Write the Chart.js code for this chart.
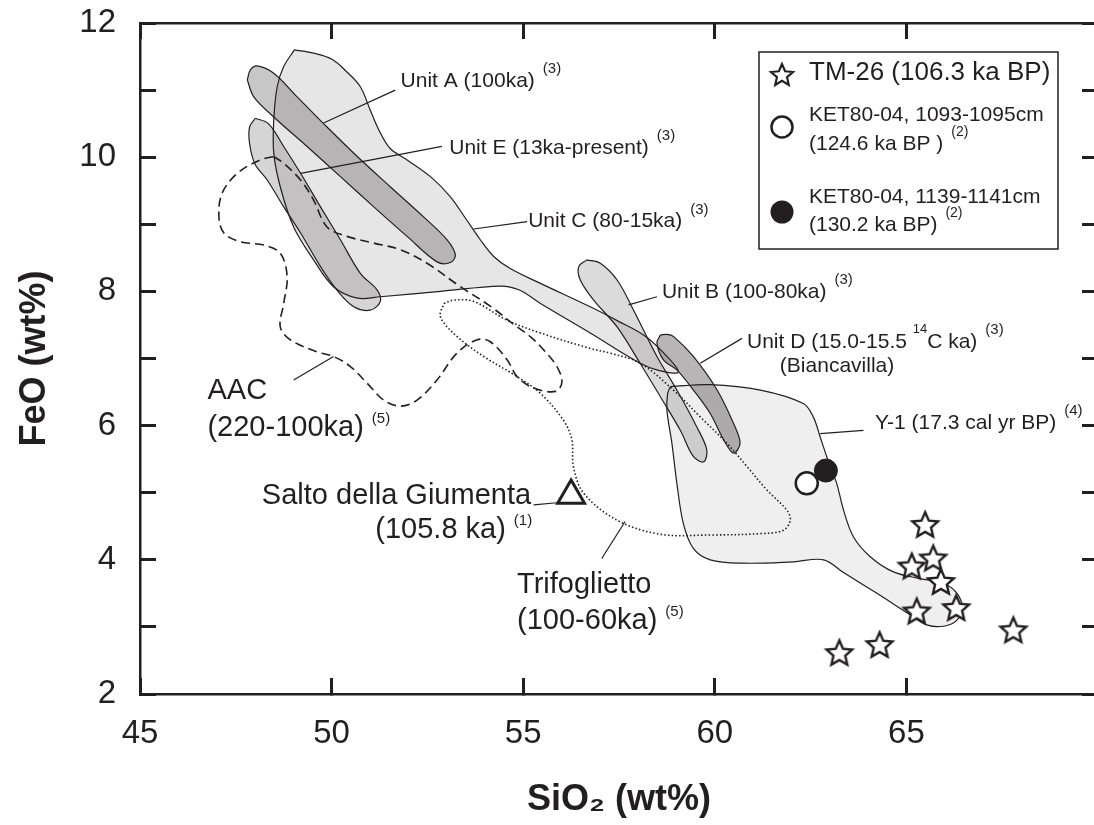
<!DOCTYPE html>
<html>
<head>
<meta charset="utf-8">
<script src="https://cdn.jsdelivr.net/npm/chart.js@4.4.0/dist/chart.umd.min.js"></script>
<style>
  html, body { margin: 0; padding: 0; overflow: hidden; background: #fff; }
  #wrap { width: 1110px; height: 825px; }
</style>
</head>
<body>
<div id="wrap"><canvas id="myChart" width="1110" height="825"></canvas></div>
<script>
const INK = "#231f20";
const FONT = '"Liberation Sans", Arial, Helvetica, sans-serif';

// tick labels
const xTicks = [45, 50, 55, 60, 65];
const yTicks = [2, 4, 6, 8, 10, 12];

// glass analyses (SiO2, FeO wt%)
const tm26 = [[65.49, 4.52], [65.70, 4.02], [65.14, 3.90], [65.90, 3.67], [65.27, 3.23], [66.30, 3.28], [67.79, 2.95], [64.30, 2.73], [63.25, 2.61]];
const ket1093 = [[62.40, 5.14]];
const ket1139 = [[62.90, 5.33]];
const saltoGiumenta = [[56.25, 4.96]];

// compositional fields (outlines)
const unitC = [[49.03, 11.60], [49.53, 11.55], [50.01, 11.46], [50.40, 11.27], [50.75, 11.05], [51.01, 10.70], [51.23, 10.41], [51.53, 10.13], [51.97, 9.96], [52.58, 9.71], [53.10, 9.41], [53.53, 9.06], [53.88, 8.77], [54.23, 8.52], [54.66, 8.34], [55.45, 8.12], [56.75, 7.77], [57.50, 7.55], [58.14, 7.35], [58.60, 7.12], [59.05, 6.80], [58.55, 6.82], [58.05, 6.93], [56.75, 7.38], [55.45, 7.82], [54.90, 8.02], [54.40, 8.08], [52.84, 8.00], [51.27, 7.92], [50.67, 7.90], [50.05, 8.07], [49.53, 8.47], [49.01, 8.96], [48.66, 9.56], [48.49, 10.06], [48.49, 10.55], [48.58, 11.05], [48.75, 11.35]];
const unitA = [[47.80, 11.15], [47.88, 11.30], [48.06, 11.36], [48.49, 11.25], [49.10, 10.90], [49.88, 10.45], [50.67, 10.01], [51.53, 9.56], [52.40, 9.11], [53.01, 8.77], [53.23, 8.54], [53.10, 8.43], [52.75, 8.44], [51.97, 8.82], [51.10, 9.26], [50.23, 9.71], [49.36, 10.16], [48.49, 10.60], [47.97, 10.90]];
const unitE = [[48.01, 10.58], [47.86, 10.45], [47.86, 10.20], [48.00, 9.90], [48.32, 9.66], [48.75, 9.26], [49.19, 8.87], [49.71, 8.37], [50.14, 8.02], [50.58, 7.77], [51.01, 7.72], [51.27, 7.85], [51.19, 8.02], [50.75, 8.27], [50.23, 8.77], [49.71, 9.26], [49.19, 9.76], [48.75, 10.16], [48.35, 10.50]];
const unitB = [[56.66, 8.47], [56.45, 8.37], [56.49, 8.17], [56.84, 7.87], [57.45, 7.47], [58.05, 6.93], [58.58, 6.43], [59.10, 5.93], [59.44, 5.54], [59.71, 5.46], [59.79, 5.64], [59.53, 5.98], [59.01, 6.53], [58.49, 7.03], [57.88, 7.72], [57.45, 8.17], [57.01, 8.42]];
const unitD = [[58.58, 7.35], [58.49, 7.23], [58.66, 6.98], [59.01, 6.83], [59.44, 6.53], [59.88, 6.18], [60.23, 5.79], [60.49, 5.59], [60.66, 5.74], [60.49, 6.03], [60.06, 6.53], [59.44, 7.03], [58.92, 7.33], [58.75, 7.36]];
const y1 = [[58.84, 6.58], [59.88, 6.61], [61.19, 6.53], [62.31, 6.33], [62.57, 6.13], [62.75, 5.83], [62.92, 5.54], [63.18, 5.14], [63.36, 4.74], [63.62, 4.34], [64.05, 4.05], [64.66, 3.82], [65.36, 3.72], [65.97, 3.65], [66.32, 3.50], [66.45, 3.30], [66.32, 3.10], [65.97, 3.01], [65.53, 3.03], [65.10, 3.18], [64.23, 3.50], [63.36, 3.81], [62.84, 4.00], [62.05, 3.97], [60.75, 3.95], [59.88, 4.00], [59.44, 4.17], [59.18, 4.54], [59.01, 5.14], [58.88, 5.74], [58.75, 6.23], [58.77, 6.48]];
const aac = [[48.49, 10.01], [48.75, 9.91], [49.19, 9.66], [49.53, 9.36], [49.88, 8.96], [50.40, 8.82], [51.10, 8.72], [51.80, 8.62], [52.49, 8.42], [53.36, 8.07], [54.14, 7.78], [54.84, 7.47], [55.20, 7.32], [55.53, 7.13], [55.88, 6.88], [56.01, 6.65], [55.85, 6.51], [55.27, 6.56], [54.84, 6.73], [54.58, 6.98], [54.14, 7.25], [53.80, 7.28], [53.27, 7.08], [52.75, 6.68], [52.23, 6.38], [51.80, 6.29], [51.36, 6.38], [50.93, 6.63], [50.49, 6.88], [50.05, 7.03], [49.62, 7.10], [48.92, 7.28], [48.66, 7.47], [48.75, 7.82], [48.84, 8.22], [48.66, 8.57], [48.23, 8.69], [47.62, 8.74], [47.19, 8.87], [47.06, 9.11], [47.14, 9.46], [47.54, 9.76], [48.14, 9.96]];
const trifoglietto = [[52.93, 7.82], [53.18, 7.87], [53.71, 7.85], [54.58, 7.57], [55.45, 7.38], [56.75, 7.15], [57.27, 7.08], [58.05, 6.93], [58.92, 6.53], [59.62, 6.13], [60.31, 5.74], [60.84, 5.39], [61.36, 5.04], [61.88, 4.74], [61.97, 4.59], [61.79, 4.44], [61.19, 4.39], [59.88, 4.37], [58.58, 4.38], [57.45, 4.59], [56.58, 4.99], [56.31, 5.39], [56.27, 5.79], [56.05, 6.08], [55.45, 6.48], [54.84, 6.73], [53.97, 7.03], [53.27, 7.33], [52.84, 7.62]];

// label leader lines: x1, y1, x2, y2
const leaders = [
  [49.79, 10.51, 51.66, 11.00],
  [49.19, 9.76, 52.88, 10.16],
  [53.71, 8.93, 55.10, 9.04],
  [57.75, 7.80, 58.49, 7.92],
  [59.62, 6.93, 60.71, 7.30],
  [62.75, 5.88, 63.88, 5.93],
  [50.05, 7.03, 49.01, 6.68],
  [55.27, 4.82, 55.88, 4.85],
  [57.66, 4.57, 57.05, 4.02],
];

// text notes, anchored in data units (left edge, middle)
const notes = [
  { x: 51.80, y: 11.14, size: 21, parts: ["Unit A (100ka)", { sup: "(3)" }] },
  { x: 53.07, y: 10.14, size: 21, parts: ["Unit E (13ka-present)", { sup: "(3)" }] },
  { x: 55.13, y: 9.04, size: 21, parts: ["Unit C (80-15ka)", { sup: "(3)" }] },
  { x: 58.62, y: 7.99, size: 21, parts: ["Unit B (100-80ka)", { sup: "(3)" }] },
  { x: 60.84, y: 7.25, size: 21, parts: ["Unit D (15.0-15.5 ", { sup: "14", gap: 0, size: 13 }, "C ka)", { sup: "(3)" }] },
  { x: 63.19, y: 6.89, size: 21, align: "center", parts: ["(Biancavilla)"] },
  { x: 64.18, y: 6.04, size: 21, parts: ["Y-1 (17.3 cal yr BP)", { sup: "(4)" }] },
  { x: 46.76, y: 6.52, size: 29, parts: ["AAC"] },
  { x: 46.76, y: 5.96, size: 29, parts: ["(220-100ka)", { sup: "(5)" }] },
  { x: 48.18, y: 4.95, size: 29, parts: ["Salto della Giumenta"] },
  { x: 51.14, y: 4.44, size: 29, parts: ["(105.8 ka)", { sup: "(1)" }] },
  { x: 54.84, y: 3.62, size: 29, parts: ["Trifoglietto"] },
  { x: 54.84, y: 3.09, size: 29, parts: ["(100-60ka)", { sup: "(5)" }] },
];

const pts = (a) => a.map(([x, y]) => ({ x, y }));
const loop = (a) => pts([...a, a[0]]);

function makeStar(r, lw) {
  const size = Math.ceil(r * 2 + lw * 2 + 2);
  const c = document.createElement("canvas");
  c.width = size;
  c.height = size;
  const g = c.getContext("2d");
  g.translate(size / 2, size / 2 + r * 0.05);
  g.beginPath();
  for (let i = 0; i < 10; i++) {
    const rad = i % 2 === 0 ? r : r * 0.46;
    const a = -Math.PI / 2 + (i * Math.PI) / 5;
    g.lineTo(Math.cos(a) * rad, Math.sin(a) * rad);
  }
  g.closePath();
  g.fillStyle = "#fff";
  g.fill();
  g.lineWidth = lw;
  g.lineJoin = "miter";
  g.strokeStyle = INK;
  g.stroke();
  return c;
}
const starImg = makeStar(13.5, 2.4);
const starSmall = makeStar(11.5, 2.2);

function field(label, arr, fillColor, order, extra) {
  return Object.assign(
    {
      label,
      data: loop(arr),
      showLine: true,
      fill: "shape",
      backgroundColor: fillColor,
      borderColor: INK,
      borderWidth: 1.2,
      pointRadius: 0,
      tension: 0.35,
      order,
    },
    extra || {}
  );
}

const datasets = [
  {
    label: "TM-26 (106.3 ka BP)",
    data: pts(tm26),
    pointStyle: starImg,
    pointRadius: 14,
    showLine: false,
    order: 0,
  },
  {
    label: "KET80-04, 1093-1095cm",
    data: pts(ket1093),
    pointStyle: "circle",
    pointRadius: 11,
    borderWidth: 2.5,
    borderColor: INK,
    backgroundColor: "#fff",
    showLine: false,
    order: 1,
  },
  {
    label: "KET80-04, 1139-1141cm",
    data: pts(ket1139),
    pointStyle: "circle",
    pointRadius: 11.5,
    borderWidth: 1,
    borderColor: INK,
    backgroundColor: INK,
    showLine: false,
    order: 0,
  },
  {
    label: "Salto della Giumenta",
    data: pts(saltoGiumenta),
    pointStyle: "triangle",
    pointRadius: 15.5,
    borderWidth: 3,
    borderColor: INK,
    backgroundColor: "rgba(255,255,255,0)",
    showLine: false,
    order: 1,
  },
  field("Unit D", unitD, "rgba(35,31,32,0.33)", 3),
  field("Unit B", unitB, "rgba(35,31,32,0.16)", 4),
  field("Unit A", unitA, "rgba(35,31,32,0.25)", 5),
  field("Unit E", unitE, "rgba(35,31,32,0.19)", 6),
  field("Trifoglietto", trifoglietto, "transparent", 7, { fill: false, borderDash: [1.5, 2.2], borderWidth: 1.6 }),
  field("AAC", aac, "transparent", 8, { fill: false, borderDash: [9, 5], borderWidth: 1.6 }),
  field("Y-1", y1, "rgba(35,31,32,0.07)", 9),
  field("Unit C", unitC, "rgba(35,31,32,0.11)", 10),
];

leaders.forEach(([x1, yA, x2, yB]) => {
  datasets.push({
    label: "",
    data: pts([[x1, yA], [x2, yB]]),
    showLine: true,
    fill: false,
    borderColor: INK,
    borderWidth: 1.2,
    pointRadius: 0,
    tension: 0,
    order: 2,
  });
});

// draws a line made of normal + superscript pieces
function drawParts(ctx, parts, x, y, size, align) {
  const mainFont = size + "px " + FONT;
  const raise = size > 24 ? 9 : 12;
  let total = 0;
  const widths = parts.map((p) => {
    if (typeof p === "string") {
      ctx.font = mainFont;
      return ctx.measureText(p).width;
    }
    ctx.font = (p.size || 15) + "px " + FONT;
    return ctx.measureText(p.sup).width + (p.gap === undefined ? 8 : p.gap);
  });
  widths.forEach((w) => (total += w));
  let cx = align === "center" ? x - total / 2 : x;
  ctx.textAlign = "left";
  ctx.textBaseline = "middle";
  ctx.fillStyle = INK;
  parts.forEach((p, i) => {
    if (typeof p === "string") {
      ctx.font = mainFont;
      ctx.fillText(p, cx, y);
    } else {
      const gap = p.gap === undefined ? 8 : p.gap;
      ctx.font = (p.size || 15) + "px " + FONT;
      ctx.fillText(p.sup, cx + gap, y - raise);
    }
    cx += widths[i];
  });
}

const notesPlugin = {
  id: "notes",
  afterDatasetsDraw(chart) {
    const { ctx, scales } = chart;
    ctx.save();
    notes.forEach((n) => {
      const px = scales.x.getPixelForValue(n.x);
      const py = scales.y.getPixelForValue(n.y);
      drawParts(ctx, n.parts, px, py, n.size, n.align);
    });
    ctx.restore();
  },
};

// boxed key in the upper right of the plot
const keyPlugin = {
  id: "keyBox",
  afterDatasetsDraw(chart) {
    const { ctx, chartArea } = chart;
    const left = chartArea.left + 619;
    const top = chartArea.top + 29;
    ctx.save();
    ctx.fillStyle = "#fff";
    ctx.fillRect(left, top, 299, 197);
    ctx.strokeStyle = INK;
    ctx.lineWidth = 1.5;
    ctx.strokeRect(left, top, 299, 197);

    const sx = left + 23;
    const tx = left + 50;
    ctx.drawImage(starSmall, sx - starSmall.width / 2, top + 23 - starSmall.height / 2);
    drawParts(ctx, ["TM-26 (106.3 ka BP)"], tx, top + 21, 26);

    ctx.beginPath();
    ctx.arc(sx, top + 75, 10.5, 0, Math.PI * 2);
    ctx.lineWidth = 2.5;
    ctx.stroke();
    drawParts(ctx, ["KET80-04, 1093-1095cm"], tx, top + 63, 21);
    drawParts(ctx, ["(124.6 ka BP )", { sup: "(2)", size: 14 }], tx, top + 92, 21);

    ctx.beginPath();
    ctx.arc(sx, top + 160, 11.5, 0, Math.PI * 2);
    ctx.fillStyle = INK;
    ctx.fill();
    drawParts(ctx, ["KET80-04, 1139-1141cm"], tx, top + 145, 21);
    drawParts(ctx, ["(130.2 ka BP)", { sup: "(2)", size: 14 }], tx, top + 173, 21);
    ctx.restore();
  },
};

const frameGrid = { drawOnChartArea: false, drawTicks: true, tickLength: -16, tickWidth: 3, tickColor: INK };
const frameBorder = { display: true, color: INK, width: 2.5 };

// fixed box sizes, and no extra room asked for by edge labels
function fixBox(size) {
  return (s) => {
    if (s.isHorizontal()) s.height = size;
    else s.width = size;
    s.paddingTop = 0;
    s.paddingBottom = 0;
    s.paddingLeft = 0;
    s.paddingRight = 0;
  };
}

const myChart = new Chart(document.getElementById("myChart"), {
  type: "scatter",
  data: { datasets },
  options: {
    responsive: false,
    devicePixelRatio: 1,
    animation: false,
    events: [],
    // canvas is a little wider than the window: the right frame line falls
    // just past the visible edge, as in the figure
    layout: { autoPadding: false, padding: { top: 23, right: 12, left: 0, bottom: 0 } },
    plugins: {
      legend: { display: false },
      tooltip: { enabled: false },
    },
    scales: {
      x: {
        type: "linear",
        position: "bottom",
        min: 45,
        max: 70,
        ticks: {
          stepSize: 5,
          padding: 36,
          color: INK,
          font: { size: 33, family: FONT },
          callback: (v) => (xTicks.includes(v) ? String(v) : ""),
        },
        grid: frameGrid,
        border: frameBorder,
        title: {
          display: true,
          text: "SiO\u2082 (wt%)",
          color: INK,
          font: { size: 36, weight: "bold", family: FONT },
          padding: { top: 0, bottom: 3 },
        },
        afterFit: fixBox(131),
      },
      x2: {
        type: "linear",
        position: "top",
        min: 45,
        max: 70,
        ticks: { display: false, stepSize: 5 },
        grid: frameGrid,
        border: frameBorder,
        afterFit: fixBox(0),
      },
      y: {
        type: "linear",
        position: "left",
        min: 2,
        max: 12,
        ticks: {
          stepSize: 1,
          padding: 40,
          color: INK,
          font: { size: 33, family: FONT },
          callback: (v) => (yTicks.includes(v) ? String(v) : ""),
        },
        grid: frameGrid,
        border: frameBorder,
        title: {
          display: true,
          text: "FeO (wt%)",
          color: INK,
          font: { size: 36, weight: "bold", family: FONT },
          padding: { top: 13, bottom: 0 },
        },
        afterFit: fixBox(140),
      },
      y2: {
        type: "linear",
        position: "right",
        min: 2,
        max: 12,
        ticks: { display: false, stepSize: 1 },
        grid: frameGrid,
        border: frameBorder,
        afterFit: fixBox(0),
      },
    },
  },
  plugins: [notesPlugin, keyPlugin],
});
</script>
</body>
</html>
